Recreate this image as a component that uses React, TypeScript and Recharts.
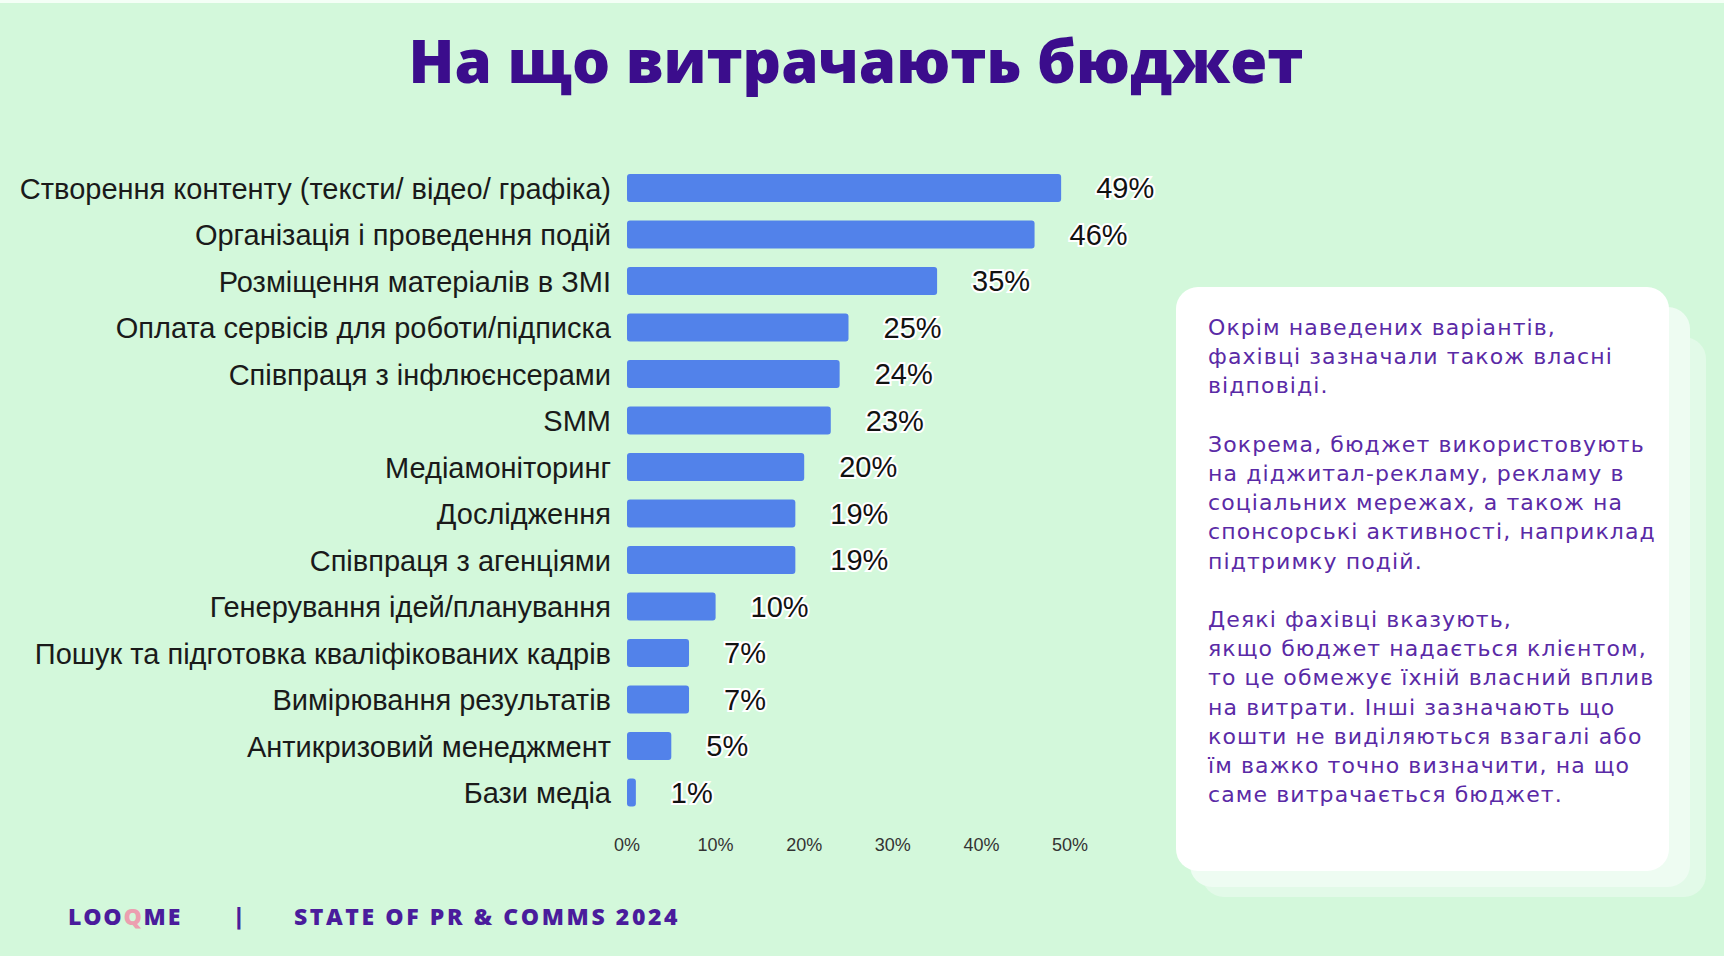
import { BarChart, Bar, XAxis, YAxis, LabelList } from 'recharts'

const categories = [
  'Створення контенту (тексти/ відео/ графіка)',
  'Організація і проведення подій',
  'Розміщення матеріалів в ЗМІ',
  'Оплата сервісів для роботи/підписка',
  'Співпраця з інфлюєнсерами',
  'SMM',
  'Медіамоніторинг',
  'Дослідження',
  'Співпраця з агенціями',
  'Генерування ідей/планування',
  'Пошук та підготовка кваліфікованих кадрів',
  'Вимірювання результатів',
  'Антикризовий менеджмент',
  'Бази медіа',
]
const shares = [49, 46, 35, 25, 24, 23, 20, 19, 19, 10, 7, 7, 5, 1]
const xTicks = [0, 10, 20, 30, 40, 50]

const title = 'На що витрачають бюджет'
const noteLines = [
  'Окрім наведених варіантів,',
  'фахівці зазначали також власні',
  'відповіді.',
  '',
  'Зокрема, бюджет використовують',
  'на діджитал-рекламу, рекламу в',
  'соціальних мережах, а також на',
  'спонсорські активності, наприклад',
  'підтримку подій.',
  '',
  'Деякі фахівці вказують,',
  'якщо бюджет надається клієнтом,',
  'то це обмежує їхній власний вплив',
  'на витрати. Інші зазначають що',
  'кошти не виділяються взагалі або',
  'їм важко точно визначити, на що',
  'саме витрачається бюджет.',
]

const data = categories.map((name, i) => ({ name, value: shares[i] }))

export default function App() {
  return (
    <div style={{ position: 'absolute', left: 0, top: 0, width: 1724, height: 956, background: '#d3f8db', overflow: 'hidden' }}>
      <div style={{ position: 'absolute', left: 0, top: 0, width: 1724, height: 3, background: '#f4fff6' }} />
      <div
        style={{
          position: 'absolute', left: 0, top: 19, width: 1712, textAlign: 'center',
          fontFamily: 'Open Sans', fontWeight: 800, fontSize: 60, color: '#3b0d8c', letterSpacing: 0,
        }}
      >
        {title}
      </div>

      <div style={{ position: 'absolute', left: 0, top: 0 }}>
        <BarChart
          layout="vertical"
          width={1724}
          height={956}
          data={data}
          margin={{ top: 165, right: 654, bottom: 100, left: 0 }}
          barCategoryGap={0}
        >
          <XAxis
            type="number"
            domain={[0, 50]}
            ticks={xTicks}
            tickFormatter={(v: number) => `${v}%`}
            axisLine={false}
            tickLine={false}
            tickSize={0}
            tickMargin={22}
            height={40}
            tick={{ fontSize: 18, fill: '#333', fontFamily: 'Liberation Sans' }}
          />
          <YAxis
            type="category"
            dataKey="name"
            width={627}
            axisLine={false}
            tickLine={false}
            tickSize={0}
            tickMargin={16}
            interval={0}
            tick={{ fontSize: 29, fill: '#1a1a1a', fontFamily: 'Liberation Sans' }}
          />
          <Bar dataKey="value" fill="#5282ea" barSize={28} radius={3} isAnimationActive={false}>
            <LabelList
              dataKey="value"
              position="right"
              offset={35}
              formatter={(v: number) => `${v}%`}
              style={{ fontSize: 29, fill: '#111', fontFamily: 'Liberation Sans', stroke: '#fff', strokeWidth: 4, paintOrder: 'stroke' }}
            />
          </Bar>
        </BarChart>
      </div>

      <div style={{ position: 'absolute', left: 1202, top: 337, width: 504, height: 560, borderRadius: 22, background: '#e2fae8' }} />
      <div style={{ position: 'absolute', left: 1190, top: 307, width: 500, height: 580, borderRadius: 22, background: '#eefcf2' }} />
      <div style={{ position: 'absolute', left: 1176, top: 287, width: 493, height: 584, borderRadius: 22, background: '#ffffff' }} />
      <div
        style={{
          position: 'absolute', left: 1208, top: 313, fontFamily: 'DejaVu Sans', fontSize: 22, lineHeight: '29.2px',
          color: '#5a2aa6', whiteSpace: 'pre', letterSpacing: 1.1,
        }}
      >
        {noteLines.join('\n')}
      </div>

      <div style={{ position: 'absolute', left: 68, top: 900, fontFamily: 'Open Sans', fontWeight: 800, fontSize: 23, color: '#4a1c9c', letterSpacing: 1.8 }}>
        LOO<span style={{ color: '#ec9fb0' }}>Q</span>ME
      </div>
      <div style={{ position: 'absolute', left: 233, top: 900, fontFamily: 'Open Sans', fontWeight: 800, fontSize: 23, color: '#4a1c9c' }}>|</div>
      <div style={{ position: 'absolute', left: 294, top: 900, fontFamily: 'Open Sans', fontWeight: 800, fontSize: 23, color: '#4a1c9c', letterSpacing: 2.6 }}>
        STATE OF PR &amp; COMMS 2024
      </div>
    </div>
  )
}
